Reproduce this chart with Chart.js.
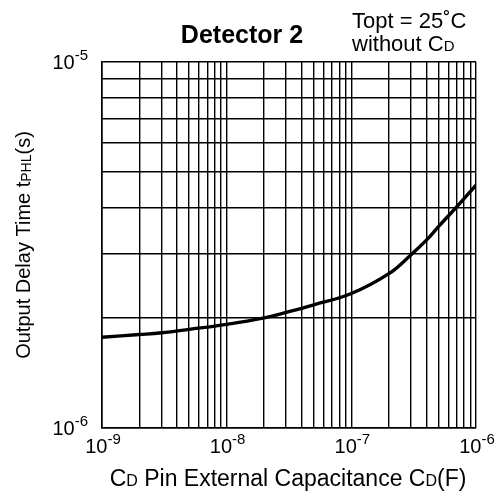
<!DOCTYPE html>
<html>
<head>
<meta charset="utf-8">
<script src="https://cdn.jsdelivr.net/npm/chart.js"></script>
<style>
  html, body { margin: 0; padding: 0; background: #fff; }
  #wrap { width: 498px; height: 494px; }
</style>
</head>
<body>
<div id="wrap"><canvas id="chartCanvas" width="498" height="494"></canvas></div>
<script>
// Kapazität C_D (F) und Verzögerungszeit tPHL (s)
const capacitance = [1e-9, 2e-9, 3e-9, 5e-9, 1e-8, 2e-8, 3e-8, 5e-8, 1e-7, 2e-7, 3e-7, 4e-7, 5e-7, 7e-7, 1e-6];
const delayTime   = [1.77e-6, 1.80e-6, 1.82e-6, 1.86e-6, 1.92e-6, 2.00e-6, 2.07e-6, 2.17e-6, 2.33e-6, 2.64e-6, 2.97e-6, 3.26e-6, 3.55e-6, 4.02e-6, 4.61e-6];

// Dekaden für Achsenbeschriftung
const xDecades = [1e-9, 1e-8, 1e-7, 1e-6];
const yDecades = [1e-6, 1e-5];
const minorSteps = [1, 2, 3, 4, 5, 6, 7, 8, 9];

const FONT = '"Liberation Sans", Arial, sans-serif';

// Gitterlinien bei 1..9 x 10^n
function logTicks(decades) {
    const ticks = [];
    decades.forEach((d, i) => {
        if (i === decades.length - 1) {
            ticks.push({ value: d });
            return;
        }
        minorSteps.forEach(m => ticks.push({ value: +(m * d).toPrecision(3) }));
    });
    return ticks;
}

// Text mit unterschiedlichen Schriftgrößen hintereinander zeichnen
function drawRuns(ctx, runs, x, y, align) {
    let total = 0;
    runs.forEach(r => {
        ctx.font = (r.bold ? 'bold ' : '') + r.size + 'px ' + FONT;
        r.w = ctx.measureText(r.t).width;
        total += r.w;
    });
    let cx = align === 'center' ? x - total / 2 : (align === 'right' ? x - total : x);
    runs.forEach(r => {
        ctx.font = (r.bold ? 'bold ' : '') + r.size + 'px ' + FONT;
        ctx.textAlign = 'left';
        ctx.textBaseline = 'alphabetic';
        ctx.fillText(r.t, cx, y + (r.dy || 0));
        cx += r.w;
    });
}

function powerLabel(v) {
    const exp = Math.round(Math.log10(v));
    return [{ t: '10', size: 20 }, { t: '-' + Math.abs(exp), size: 15, dy: -9 }];
}

const labelPlugin = {
    id: 'labels',
    afterDraw(chart) {
        const ctx = chart.ctx;
        const xs = chart.scales.x;
        const ys = chart.scales.y;
        ctx.save();
        ctx.fillStyle = '#000';

        // Achsenbeschriftungen
        xDecades.forEach(v => {
            drawRuns(ctx, powerLabel(v), xs.getPixelForValue(v) + 1, ys.bottom + 25, 'center');
        });
        yDecades.forEach(v => {
            drawRuns(ctx, powerLabel(v), xs.left - 14, ys.getPixelForValue(v) + 7, 'right');
        });

        // Titel
        drawRuns(ctx, [{ t: 'Detector 2', size: 25, bold: true }], 242, 43, 'center');
        drawRuns(ctx, [{ t: 'Topt = 25˚C', size: 22 }], 352, 28, 'left');
        drawRuns(ctx, [{ t: 'without C', size: 22 }, { t: 'D', size: 15 }], 352, 51, 'left');

        // x-Achsentitel
        drawRuns(ctx, [
            { t: 'C', size: 23 }, { t: 'D', size: 16 },
            { t: ' Pin External Capacitance C', size: 23 }, { t: 'D', size: 16 },
            { t: '(F)', size: 23 }
        ], 288, 486, 'center');

        // y-Achsentitel (gedreht)
        ctx.translate(30, 245);
        ctx.rotate(-Math.PI / 2);
        drawRuns(ctx, [
            { t: 'Output Delay Time t', size: 20 }, { t: 'PHL', size: 14, dy: 1 },
            { t: '(s)', size: 20 }
        ], 0, 0, 'center');
        ctx.restore();
    }
};

const ctx = document.getElementById('chartCanvas').getContext('2d');
new Chart(ctx, {
    type: 'line',
    data: {
        datasets: [{
            data: capacitance.map((c, i) => ({ x: c, y: delayTime[i] })),
            borderColor: '#000',
            borderWidth: 3.4,
            pointRadius: 0,
            tension: 0.4,
            fill: false
        }]
    },
    options: {
        responsive: false,
        animation: false,
        devicePixelRatio: 1,
        layout: { padding: { left: 102, right: 22, top: 62, bottom: 66 } },
        plugins: { legend: { display: false }, tooltip: { enabled: false } },
        scales: {
            x: {
                type: 'logarithmic',
                min: 1e-9,
                max: 1e-6,
                afterBuildTicks: scale => { scale.ticks = logTicks(xDecades); },
                ticks: { display: false },
                grid: { color: '#000', lineWidth: 1.4, drawTicks: false },
                border: { color: '#000', width: 1.6 }
            },
            y: {
                type: 'logarithmic',
                min: 1e-6,
                max: 1e-5,
                afterBuildTicks: scale => { scale.ticks = logTicks(yDecades); },
                ticks: { display: false },
                grid: { color: '#000', lineWidth: 1.4, drawTicks: false },
                border: { color: '#000', width: 1.6 }
            }
        }
    },
    plugins: [labelPlugin]
});
</script>
</body>
</html>
